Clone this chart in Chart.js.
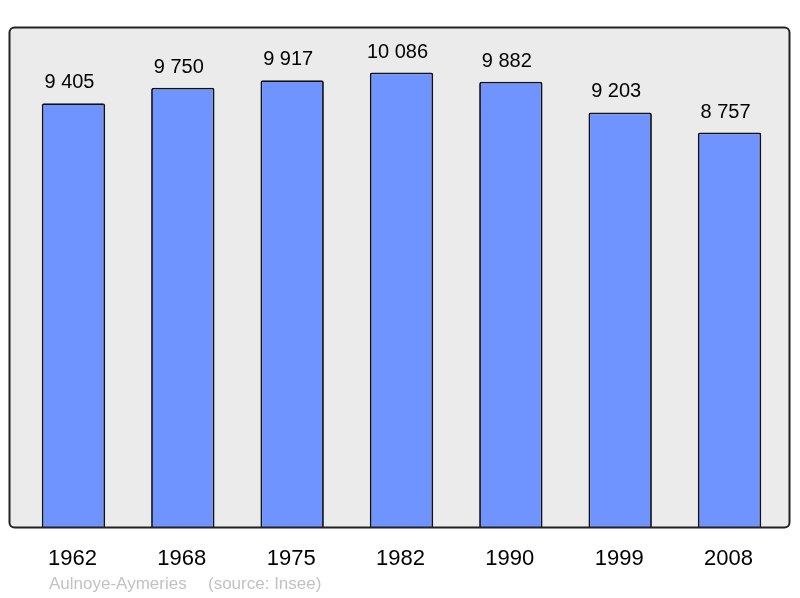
<!DOCTYPE html>
<html>
<head>
<meta charset="utf-8">
<script src="https://cdn.jsdelivr.net/npm/chart.js@4/dist/chart.umd.min.js"></script>
<style>
html,body{margin:0;padding:0;background:#fff;}
#wrap{width:800px;height:598px;position:relative;}
</style>
</head>
<body>
<div id="wrap"><canvas id="c" width="800" height="598"></canvas></div>
<script>
const years = ["1962","1968","1975","1982","1990","1999","2008"];
const population = [9405, 9750, 9917, 10086, 9882, 9203, 8757];
const valueLabels = ["9 405","9 750","9 917","10 086","9 882","9 203","8 757"];
const townName = "Aulnoye-Aymeries";
const sourceText = "(source: Insee)";

const FONT = "'Liberation Sans', Arial, sans-serif";

const decor = {
  id: 'decor',
  beforeDraw(chart) {
    const ctx = chart.ctx;
    ctx.save();
    ctx.beginPath();
    ctx.roundRect(9.5, 27.5, 780, 500, 5);
    ctx.fillStyle = '#ebebeb';
    ctx.fill();
    ctx.restore();
  },
  afterDatasetsDraw(chart) {
    const ctx = chart.ctx;
    const xs = chart.scales.x, ys = chart.scales.y;
    ctx.save();
    ctx.beginPath();
    ctx.roundRect(9.5, 27.5, 780, 500, 5);
    ctx.lineWidth = 2;
    ctx.strokeStyle = '#222';
    ctx.stroke();
    ctx.fillStyle = '#000';
    ctx.textAlign = 'center';
    ctx.textBaseline = 'alphabetic';
    ctx.font = '20px ' + FONT;
    population.forEach((v, i) => {
      const px = xs.getPixelForValue(i);
      const py = ys.getPixelForValue(v);
      ctx.fillText(valueLabels[i], px - 4, py - 15);
    });
    ctx.font = '22px ' + FONT;
    years.forEach((yr, i) => {
      ctx.fillText(yr, xs.getPixelForValue(i) - 1, 565);
    });
    ctx.textAlign = 'left';
    ctx.fillStyle = '#c2c2c2';
    ctx.font = '17px ' + FONT;
    ctx.fillText(townName, 49, 589);
    ctx.fillText(sourceText, 208, 589);
    ctx.restore();
  }
};

new Chart(document.getElementById('c'), {
  type: 'bar',
  data: {
    labels: years,
    datasets: [{
      data: population,
      backgroundColor: '#7094ff',
      borderColor: '#111',
      borderWidth: 1.8,
      borderSkipped: 'bottom',
      borderRadius: {topLeft: 2, topRight: 2, bottomLeft: 0, bottomRight: 0},
      categoryPercentage: 1,
      barPercentage: 0.58
    }]
  },
  options: {
    responsive: false,
    animation: false,
    devicePixelRatio: 1,
    layout: { padding: { left: 18.8, right: 15.8, top: 27, bottom: 70 } },
    plugins: { legend: { display: false }, tooltip: { enabled: false } },
    scales: {
      x: { display: false },
      y: { display: false, min: 0, max: 11094 }
    }
  },
  plugins: [decor]
});
</script>
</body>
</html>
